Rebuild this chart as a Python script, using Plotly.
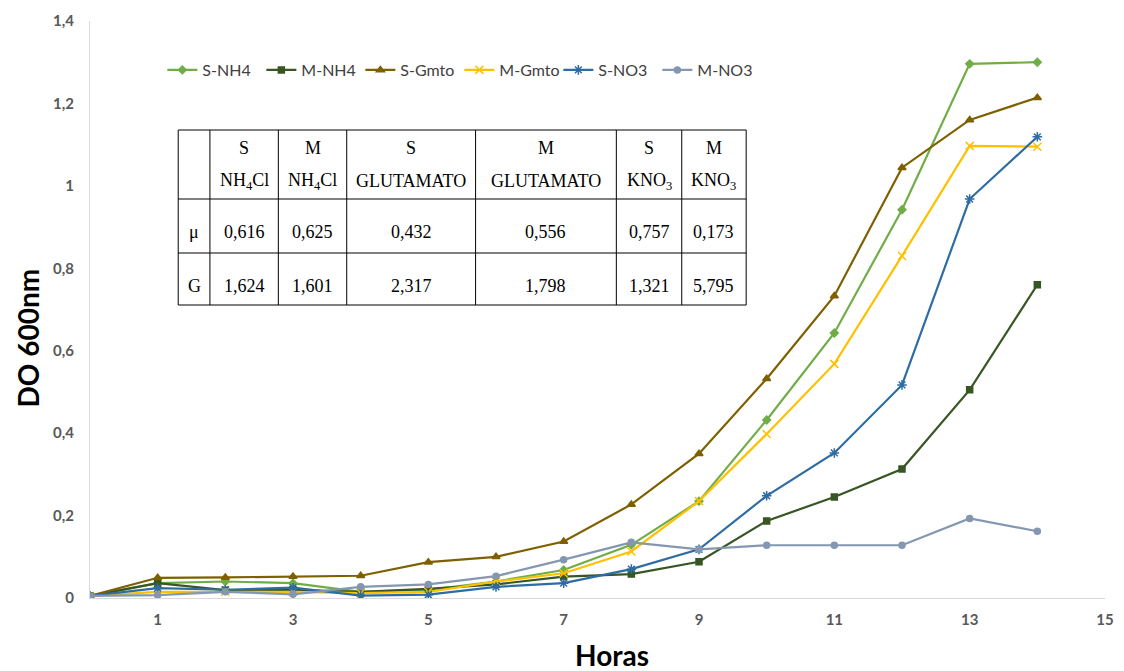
import plotly.graph_objects as go

horas = list(range(15))

s_nh4 = [0.005, 0.036, 0.040, 0.036, 0.015, 0.020, 0.040, 0.068, 0.129, 0.235, 0.432, 0.643, 0.942, 1.296, 1.300]
m_nh4 = [0.005, 0.036, 0.019, 0.020, 0.015, 0.022, 0.033, 0.052, 0.058, 0.088, 0.187, 0.245, 0.313, 0.505, 0.760]
s_gmto = [0.005, 0.049, 0.050, 0.052, 0.054, 0.087, 0.100, 0.137, 0.227, 0.350, 0.532, 0.733, 1.044, 1.160, 1.214]
m_gmto = [0.005, 0.015, 0.015, 0.015, 0.012, 0.015, 0.040, 0.060, 0.113, 0.235, 0.398, 0.568, 0.830, 1.097, 1.095]
s_no3 = [0.005, 0.024, 0.020, 0.025, 0.006, 0.008, 0.027, 0.036, 0.070, 0.118, 0.248, 0.352, 0.517, 0.968, 1.119]
m_no3 = [0.005, 0.007, 0.015, 0.009, 0.027, 0.033, 0.053, 0.093, 0.135, 0.118, 0.128, 0.128, 0.128, 0.193, 0.162]

series_names = ["S-NH4", "M-NH4", "S-Gmto", "M-Gmto", "S-NO3", "M-NO3"]
series_values = [s_nh4, m_nh4, s_gmto, m_gmto, s_no3, m_no3]
series_colors = ["#70AD47", "#375623", "#7F6000", "#FFC000", "#2E6CA4", "#8497B0"]
series_symbols = ["diamond", "square", "triangle-up", "x-thin-open", "asterisk-open", "circle"]
series_sizes = [6, 6, 7, 8, 8, 6]

table_header_top = ["", "S", "M", "S", "M", "S", "M"]
table_header_bottom = ["", "NH<sub>4</sub>Cl", "NH<sub>4</sub>Cl", "GLUTAMATO", "GLUTAMATO", "KNO<sub>3</sub>", "KNO<sub>3</sub>"]
table_mu = ["μ", "0,616", "0,625", "0,432", "0,556", "0,757", "0,173"]
table_g = ["G", "1,624", "1,601", "2,317", "1,798", "1,321", "5,795"]

W, H = 1124, 671
ML, MR, MT, MB = 90, 10, 21, 73
PW, PH = W - ML - MR, H - MT - MB

def px(xp):
    return (xp - ML) / PW

def py(yp):
    return (H - MB - yp) / PH

fig = go.Figure()
for name, vals, col, sym, sz in zip(series_names, series_values, series_colors, series_symbols, series_sizes):
    fig.add_trace(go.Scatter(
        x=horas, y=vals, name=name, mode="lines+markers",
        line=dict(color=col, width=2.2),
        marker=dict(symbol=sym, size=sz, color=col, line=dict(color=col, width=1.5)),
    ))

# table geometry (pixels)
col_edges = [179, 211, 280, 349, 479, 621, 687, 752]
row_edges = [130, 199, 253, 305]
text_rows_y = [148, 181, 232, 286]
shapes = []
annotations = []
shapes.append(dict(type="rect", xref="paper", yref="paper",
                   x0=px(col_edges[0]), x1=px(col_edges[-1]), y0=py(row_edges[-1]), y1=py(row_edges[0]),
                   line=dict(color="#000000", width=1), fillcolor="white", layer="below"))
for ce in col_edges[1:-1]:
    shapes.append(dict(type="line", xref="paper", yref="paper", x0=px(ce), x1=px(ce),
                       y0=py(row_edges[-1]), y1=py(row_edges[0]), line=dict(color="#000000", width=1)))
for re_ in row_edges[1:-1]:
    shapes.append(dict(type="line", xref="paper", yref="paper", x0=px(col_edges[0]), x1=px(col_edges[-1]),
                       y0=py(re_), y1=py(re_), line=dict(color="#000000", width=1)))

tfont = dict(family="Liberation Serif, Times New Roman, serif", size=18, color="#000000")
for i in range(7):
    cx = px((col_edges[i] + col_edges[i + 1]) / 2)
    for txt, ypix in zip([table_header_top[i], table_header_bottom[i], table_mu[i], table_g[i]], text_rows_y):
        if txt:
            annotations.append(dict(x=cx, y=py(ypix), xref="paper", yref="paper", text=txt,
                                    showarrow=False, font=tfont, xanchor="center", yanchor="middle"))

annotations.append(dict(x=px(617), y=py(655), xref="paper", yref="paper", text="<b>Horas</b>",
                        showarrow=False, font=dict(family="Lato, Open Sans, sans-serif", size=28, color="#000000"),
                        xanchor="center", yanchor="middle"))
annotations.append(dict(x=px(27), y=py(338), xref="paper", yref="paper", text="<b>DO 600nm</b>",
                        showarrow=False, textangle=-90,
                        font=dict(family="Lato, Open Sans, sans-serif", size=28, color="#000000"),
                        xanchor="center", yanchor="middle"))

tickfont = dict(family="Lato, Open Sans, sans-serif", size=15, color="#595959", weight="bold")

fig.update_layout(
    width=W, height=H,
    margin=dict(l=ML, r=MR, t=MT, b=MB),
    plot_bgcolor="white", paper_bgcolor="white",
    separators=",.",
    showlegend=True,
    legend=dict(orientation="h", x=px(163), y=py(70), xanchor="left", yanchor="middle",
                font=dict(family="Lato, Open Sans, sans-serif", size=16, color="#404040"),
                itemwidth=30, entrywidthmode="pixels", entrywidth=54,
                bgcolor="rgba(0,0,0,0)"),
    xaxis=dict(range=[0, 15], tickmode="linear", tick0=1, dtick=2, showgrid=False, zeroline=False,
               showline=True, linecolor="#D9D9D9", linewidth=1, ticks="", tickfont=tickfont,
               ticklabelstandoff=8),
    yaxis=dict(range=[0, 1.4], tickmode="linear", tick0=0, dtick=0.2, showgrid=False, zeroline=False,
               showline=True, linecolor="#D9D9D9", linewidth=1, ticks="", tickfont=tickfont,
               ticklabelstandoff=12),
    shapes=shapes,
    annotations=annotations,
)

fig.write_html("out.html", config={"displayModeBar": False},
               post_script="document.body.style.margin='0';document.body.style.overflow='hidden';")
